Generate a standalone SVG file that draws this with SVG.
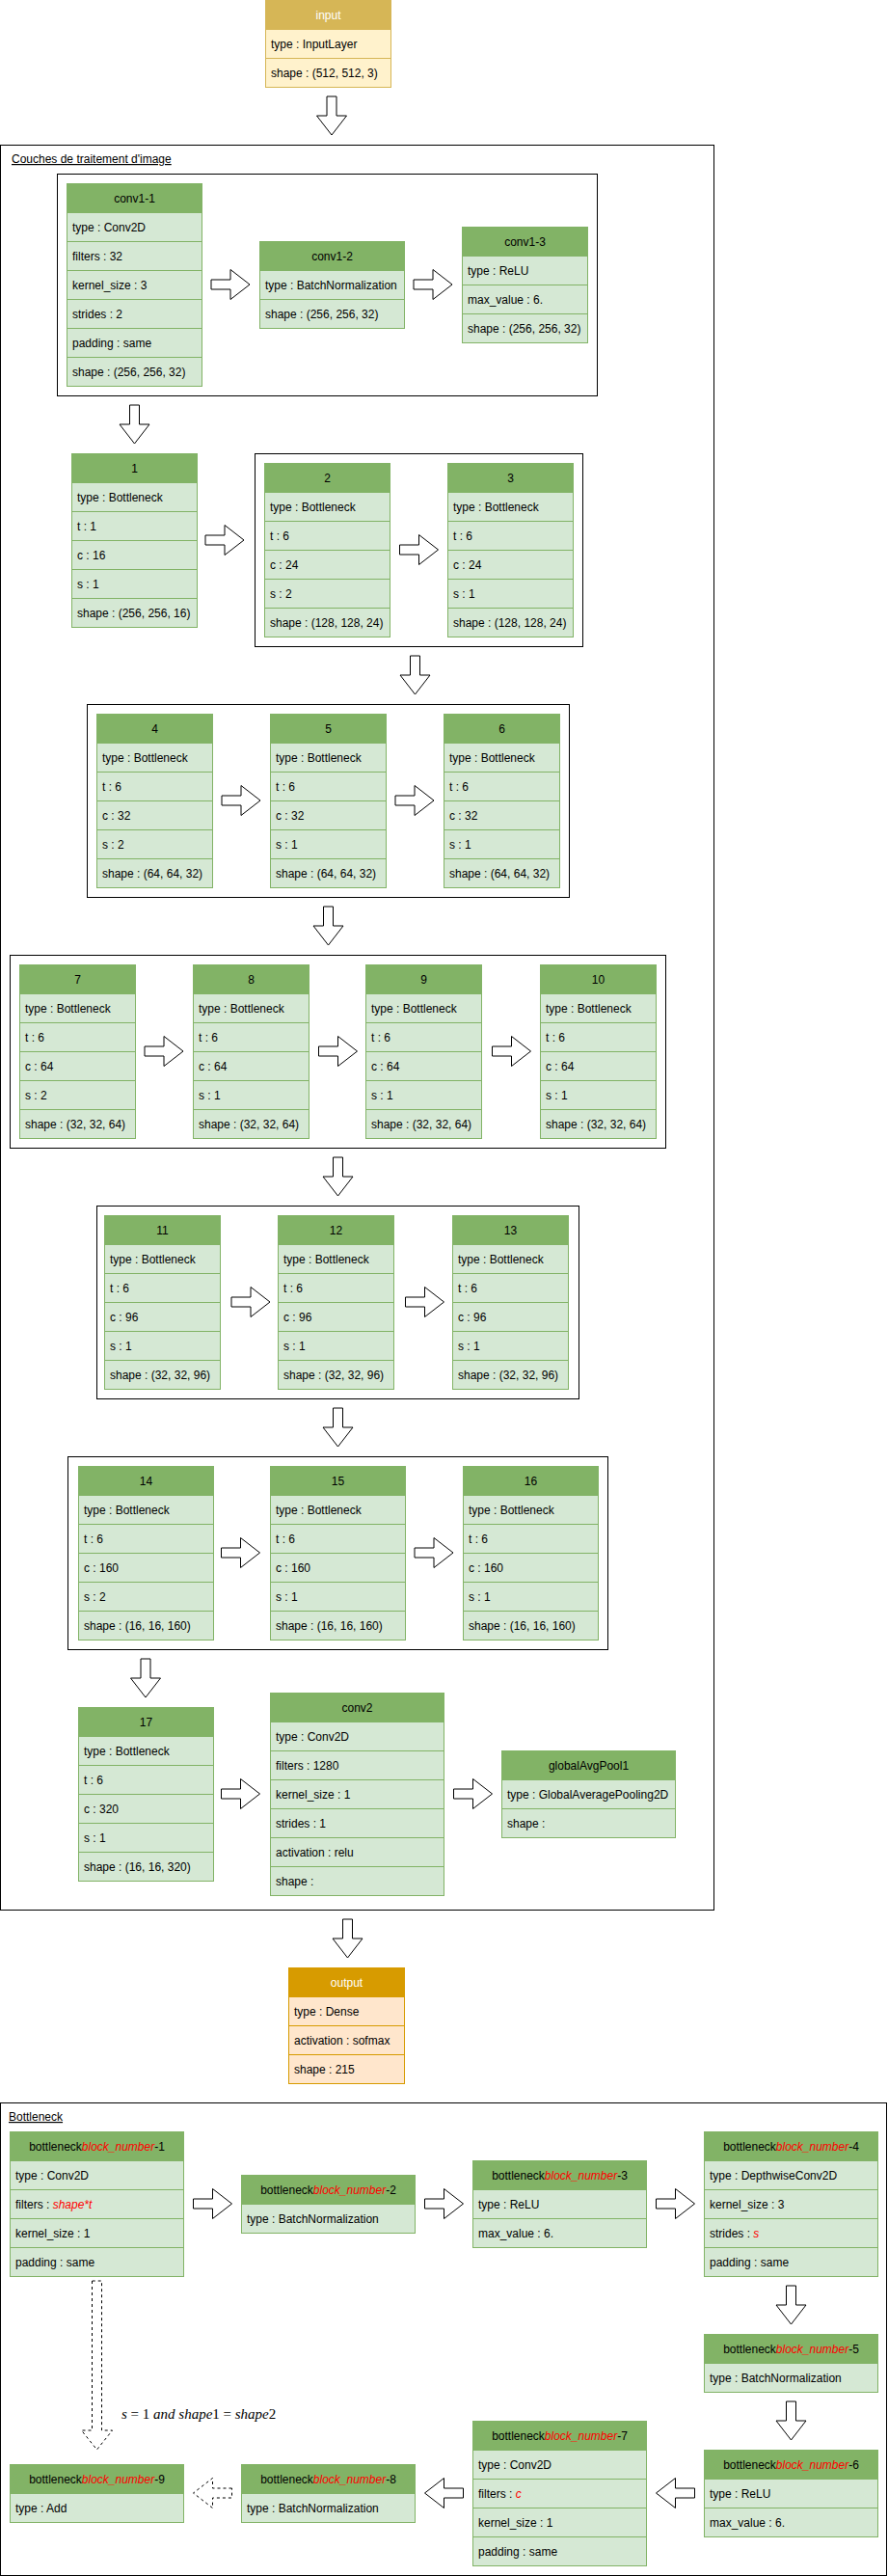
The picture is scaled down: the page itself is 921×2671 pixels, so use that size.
<svg xmlns="http://www.w3.org/2000/svg" xmlns:xlink="http://www.w3.org/1999/xlink" width="921" height="2671" viewBox="0 0 921 2671">
<style>
text{font-family:"Liberation Sans",Arial,sans-serif;font-size:12px;fill:#000}
.c{text-anchor:middle}
.w{fill:#fff}
.gh{fill:#82b366;stroke:#82b366}
.gr{fill:#d5e8d4;stroke:#82b366}
.yh{fill:#d6b656;stroke:#d6b656}
.yr{fill:#fff2cc;stroke:#d6b656}
.oh{fill:#d79b00;stroke:#d79b00}
.or{fill:#ffe6cc;stroke:#d79b00}
.box{fill:none;stroke:#000;stroke-width:1}
.arr{fill:#fff;stroke:#000;stroke-width:1}
.dash{stroke-dasharray:3,3}
.red{fill:#ff0000;font-style:italic}
.u{text-decoration:underline}
.m{font-family:"Liberation Serif","Times New Roman",serif;font-size:15px}
.i{font-style:italic}
</style>
<defs>
<path id="ar" d="M0,-5 H20 V-15.5 L40,0 L20,15.5 V5 H0 Z"/>
<path id="ad" d="M-5,0 V20 H-15.5 L0,40 L15.5,20 H5 V0 Z"/>
<path id="al" d="M40,-5 H20 V-15.5 L0,0 L20,15.5 V5 H40 Z"/>
</defs>

<g id="containers">
<rect class="box" x="0.5" y="150.5" width="740" height="1830"/>
<text class="u" x="12" y="169">Couches de traitement d'image</text>
<rect class="box" x="59.5" y="180.5" width="560" height="230"/>
<rect class="box" x="264.5" y="470.5" width="340" height="200"/>
<rect class="box" x="90.5" y="730.5" width="500" height="200"/>
<rect class="box" x="10.5" y="990.5" width="680" height="200"/>
<rect class="box" x="100.5" y="1250.5" width="500" height="200"/>
<rect class="box" x="70.5" y="1510.5" width="560" height="200"/>
<rect class="box" x="0.5" y="2180.5" width="919" height="490"/>
<text class="u" x="9" y="2199">Bottleneck</text>
</g>

<g id="connectors">
<use xlink:href="#ad" x="344" y="100" class="arr"/>
<use xlink:href="#ar" x="219" y="295" class="arr"/>
<use xlink:href="#ar" x="429" y="295" class="arr"/>
<use xlink:href="#ad" x="139.5" y="420" class="arr"/>
<use xlink:href="#ar" x="213" y="560" class="arr"/>
<use xlink:href="#ar" x="414.5" y="570" class="arr"/>
<use xlink:href="#ad" x="430.5" y="680" class="arr"/>
<use xlink:href="#ar" x="230" y="830" class="arr"/>
<use xlink:href="#ar" x="410" y="830" class="arr"/>
<use xlink:href="#ad" x="340.5" y="940" class="arr"/>
<use xlink:href="#ar" x="150" y="1090" class="arr"/>
<use xlink:href="#ar" x="330.5" y="1090" class="arr"/>
<use xlink:href="#ar" x="510.5" y="1090" class="arr"/>
<use xlink:href="#ad" x="350.5" y="1200" class="arr"/>
<use xlink:href="#ar" x="240" y="1350" class="arr"/>
<use xlink:href="#ar" x="420.5" y="1350" class="arr"/>
<use xlink:href="#ad" x="350.5" y="1460" class="arr"/>
<use xlink:href="#ar" x="229.5" y="1610" class="arr"/>
<use xlink:href="#ar" x="430" y="1610" class="arr"/>
<use xlink:href="#ad" x="151" y="1720" class="arr"/>
<use xlink:href="#ar" x="229.5" y="1860" class="arr"/>
<use xlink:href="#ar" x="470.5" y="1860" class="arr"/>
<use xlink:href="#ad" x="360.5" y="1990" class="arr"/>
<use xlink:href="#ar" x="200.5" y="2285" class="arr"/>
<use xlink:href="#ar" x="440.5" y="2285" class="arr"/>
<use xlink:href="#ar" x="680.5" y="2285" class="arr"/>
<use xlink:href="#ad" x="820.5" y="2370" class="arr"/>
<use xlink:href="#ad" x="820.5" y="2490" class="arr"/>
<use xlink:href="#al" x="680.5" y="2585" class="arr"/>
<use xlink:href="#al" x="440.5" y="2585" class="arr"/>
<use xlink:href="#al" x="200.5" y="2585" class="arr dash"/>
<path class="arr dash" d="M95.5,2365 V2520 H84.5 L100.5,2540 L116.5,2520 H105.5 V2365 Z"/>
<text class="m" x="126" y="2508"><tspan class="i">s</tspan> = 1 <tspan class="i">and shape</tspan>1 = <tspan class="i">shape</tspan>2</text>
</g>

<g id="input">
<rect class="yh" x="275.5" y="0.5" width="130" height="30"/>
<rect class="yr" x="275.5" y="30.5" width="130" height="30"/>
<rect class="yr" x="275.5" y="60.5" width="130" height="30"/>
<text class="c w" x="340.5" y="19.5">input</text>
<text x="281" y="49.5">type : InputLayer</text>
<text x="281" y="79.5">shape : (512, 512, 3)</text>
</g>

<g id="conv1-1">
<rect class="gh" x="69.5" y="190.5" width="140" height="30"/>
<rect class="gr" x="69.5" y="220.5" width="140" height="30"/>
<rect class="gr" x="69.5" y="250.5" width="140" height="30"/>
<rect class="gr" x="69.5" y="280.5" width="140" height="30"/>
<rect class="gr" x="69.5" y="310.5" width="140" height="30"/>
<rect class="gr" x="69.5" y="340.5" width="140" height="30"/>
<rect class="gr" x="69.5" y="370.5" width="140" height="30"/>
<text class="c" x="139.5" y="209.5">conv1-1</text>
<text x="75" y="239.5">type : Conv2D</text>
<text x="75" y="269.5">filters : 32</text>
<text x="75" y="299.5">kernel_size : 3</text>
<text x="75" y="329.5">strides : 2</text>
<text x="75" y="359.5">padding : same</text>
<text x="75" y="389.5">shape : (256, 256, 32)</text>
</g>

<g id="conv1-2">
<rect class="gh" x="269.5" y="250.5" width="150" height="30"/>
<rect class="gr" x="269.5" y="280.5" width="150" height="30"/>
<rect class="gr" x="269.5" y="310.5" width="150" height="30"/>
<text class="c" x="344.5" y="269.5">conv1-2</text>
<text x="275" y="299.5">type : BatchNormalization</text>
<text x="275" y="329.5">shape : (256, 256, 32)</text>
</g>

<g id="conv1-3">
<rect class="gh" x="479.5" y="235.5" width="130" height="30"/>
<rect class="gr" x="479.5" y="265.5" width="130" height="30"/>
<rect class="gr" x="479.5" y="295.5" width="130" height="30"/>
<rect class="gr" x="479.5" y="325.5" width="130" height="30"/>
<text class="c" x="544.5" y="254.5">conv1-3</text>
<text x="485" y="284.5">type : ReLU</text>
<text x="485" y="314.5">max_value : 6.</text>
<text x="485" y="344.5">shape : (256, 256, 32)</text>
</g>

<g id="b1">
<rect class="gh" x="74.5" y="470.5" width="130" height="30"/>
<rect class="gr" x="74.5" y="500.5" width="130" height="30"/>
<rect class="gr" x="74.5" y="530.5" width="130" height="30"/>
<rect class="gr" x="74.5" y="560.5" width="130" height="30"/>
<rect class="gr" x="74.5" y="590.5" width="130" height="30"/>
<rect class="gr" x="74.5" y="620.5" width="130" height="30"/>
<text class="c" x="139.5" y="489.5">1</text>
<text x="80" y="519.5">type : Bottleneck</text>
<text x="80" y="549.5">t : 1</text>
<text x="80" y="579.5">c : 16</text>
<text x="80" y="609.5">s : 1</text>
<text x="80" y="639.5">shape : (256, 256, 16)</text>
</g>

<g id="b2">
<rect class="gh" x="274.5" y="480.5" width="130" height="30"/>
<rect class="gr" x="274.5" y="510.5" width="130" height="30"/>
<rect class="gr" x="274.5" y="540.5" width="130" height="30"/>
<rect class="gr" x="274.5" y="570.5" width="130" height="30"/>
<rect class="gr" x="274.5" y="600.5" width="130" height="30"/>
<rect class="gr" x="274.5" y="630.5" width="130" height="30"/>
<text class="c" x="339.5" y="499.5">2</text>
<text x="280" y="529.5">type : Bottleneck</text>
<text x="280" y="559.5">t : 6</text>
<text x="280" y="589.5">c : 24</text>
<text x="280" y="619.5">s : 2</text>
<text x="280" y="649.5">shape : (128, 128, 24)</text>
</g>

<g id="b3">
<rect class="gh" x="464.5" y="480.5" width="130" height="30"/>
<rect class="gr" x="464.5" y="510.5" width="130" height="30"/>
<rect class="gr" x="464.5" y="540.5" width="130" height="30"/>
<rect class="gr" x="464.5" y="570.5" width="130" height="30"/>
<rect class="gr" x="464.5" y="600.5" width="130" height="30"/>
<rect class="gr" x="464.5" y="630.5" width="130" height="30"/>
<text class="c" x="529.5" y="499.5">3</text>
<text x="470" y="529.5">type : Bottleneck</text>
<text x="470" y="559.5">t : 6</text>
<text x="470" y="589.5">c : 24</text>
<text x="470" y="619.5">s : 1</text>
<text x="470" y="649.5">shape : (128, 128, 24)</text>
</g>

<g id="b4">
<rect class="gh" x="100.5" y="740.5" width="120" height="30"/>
<rect class="gr" x="100.5" y="770.5" width="120" height="30"/>
<rect class="gr" x="100.5" y="800.5" width="120" height="30"/>
<rect class="gr" x="100.5" y="830.5" width="120" height="30"/>
<rect class="gr" x="100.5" y="860.5" width="120" height="30"/>
<rect class="gr" x="100.5" y="890.5" width="120" height="30"/>
<text class="c" x="160.5" y="759.5">4</text>
<text x="106" y="789.5">type : Bottleneck</text>
<text x="106" y="819.5">t : 6</text>
<text x="106" y="849.5">c : 32</text>
<text x="106" y="879.5">s : 2</text>
<text x="106" y="909.5">shape : (64, 64, 32)</text>
</g>

<g id="b5">
<rect class="gh" x="280.5" y="740.5" width="120" height="30"/>
<rect class="gr" x="280.5" y="770.5" width="120" height="30"/>
<rect class="gr" x="280.5" y="800.5" width="120" height="30"/>
<rect class="gr" x="280.5" y="830.5" width="120" height="30"/>
<rect class="gr" x="280.5" y="860.5" width="120" height="30"/>
<rect class="gr" x="280.5" y="890.5" width="120" height="30"/>
<text class="c" x="340.5" y="759.5">5</text>
<text x="286" y="789.5">type : Bottleneck</text>
<text x="286" y="819.5">t : 6</text>
<text x="286" y="849.5">c : 32</text>
<text x="286" y="879.5">s : 1</text>
<text x="286" y="909.5">shape : (64, 64, 32)</text>
</g>

<g id="b6">
<rect class="gh" x="460.5" y="740.5" width="120" height="30"/>
<rect class="gr" x="460.5" y="770.5" width="120" height="30"/>
<rect class="gr" x="460.5" y="800.5" width="120" height="30"/>
<rect class="gr" x="460.5" y="830.5" width="120" height="30"/>
<rect class="gr" x="460.5" y="860.5" width="120" height="30"/>
<rect class="gr" x="460.5" y="890.5" width="120" height="30"/>
<text class="c" x="520.5" y="759.5">6</text>
<text x="466" y="789.5">type : Bottleneck</text>
<text x="466" y="819.5">t : 6</text>
<text x="466" y="849.5">c : 32</text>
<text x="466" y="879.5">s : 1</text>
<text x="466" y="909.5">shape : (64, 64, 32)</text>
</g>

<g id="b7">
<rect class="gh" x="20.5" y="1000.5" width="120" height="30"/>
<rect class="gr" x="20.5" y="1030.5" width="120" height="30"/>
<rect class="gr" x="20.5" y="1060.5" width="120" height="30"/>
<rect class="gr" x="20.5" y="1090.5" width="120" height="30"/>
<rect class="gr" x="20.5" y="1120.5" width="120" height="30"/>
<rect class="gr" x="20.5" y="1150.5" width="120" height="30"/>
<text class="c" x="80.5" y="1019.5">7</text>
<text x="26" y="1049.5">type : Bottleneck</text>
<text x="26" y="1079.5">t : 6</text>
<text x="26" y="1109.5">c : 64</text>
<text x="26" y="1139.5">s : 2</text>
<text x="26" y="1169.5">shape : (32, 32, 64)</text>
</g>

<g id="b8">
<rect class="gh" x="200.5" y="1000.5" width="120" height="30"/>
<rect class="gr" x="200.5" y="1030.5" width="120" height="30"/>
<rect class="gr" x="200.5" y="1060.5" width="120" height="30"/>
<rect class="gr" x="200.5" y="1090.5" width="120" height="30"/>
<rect class="gr" x="200.5" y="1120.5" width="120" height="30"/>
<rect class="gr" x="200.5" y="1150.5" width="120" height="30"/>
<text class="c" x="260.5" y="1019.5">8</text>
<text x="206" y="1049.5">type : Bottleneck</text>
<text x="206" y="1079.5">t : 6</text>
<text x="206" y="1109.5">c : 64</text>
<text x="206" y="1139.5">s : 1</text>
<text x="206" y="1169.5">shape : (32, 32, 64)</text>
</g>

<g id="b9">
<rect class="gh" x="379.5" y="1000.5" width="120" height="30"/>
<rect class="gr" x="379.5" y="1030.5" width="120" height="30"/>
<rect class="gr" x="379.5" y="1060.5" width="120" height="30"/>
<rect class="gr" x="379.5" y="1090.5" width="120" height="30"/>
<rect class="gr" x="379.5" y="1120.5" width="120" height="30"/>
<rect class="gr" x="379.5" y="1150.5" width="120" height="30"/>
<text class="c" x="439.5" y="1019.5">9</text>
<text x="385" y="1049.5">type : Bottleneck</text>
<text x="385" y="1079.5">t : 6</text>
<text x="385" y="1109.5">c : 64</text>
<text x="385" y="1139.5">s : 1</text>
<text x="385" y="1169.5">shape : (32, 32, 64)</text>
</g>

<g id="b10">
<rect class="gh" x="560.5" y="1000.5" width="120" height="30"/>
<rect class="gr" x="560.5" y="1030.5" width="120" height="30"/>
<rect class="gr" x="560.5" y="1060.5" width="120" height="30"/>
<rect class="gr" x="560.5" y="1090.5" width="120" height="30"/>
<rect class="gr" x="560.5" y="1120.5" width="120" height="30"/>
<rect class="gr" x="560.5" y="1150.5" width="120" height="30"/>
<text class="c" x="620.5" y="1019.5">10</text>
<text x="566" y="1049.5">type : Bottleneck</text>
<text x="566" y="1079.5">t : 6</text>
<text x="566" y="1109.5">c : 64</text>
<text x="566" y="1139.5">s : 1</text>
<text x="566" y="1169.5">shape : (32, 32, 64)</text>
</g>

<g id="b11">
<rect class="gh" x="108.5" y="1260.5" width="120" height="30"/>
<rect class="gr" x="108.5" y="1290.5" width="120" height="30"/>
<rect class="gr" x="108.5" y="1320.5" width="120" height="30"/>
<rect class="gr" x="108.5" y="1350.5" width="120" height="30"/>
<rect class="gr" x="108.5" y="1380.5" width="120" height="30"/>
<rect class="gr" x="108.5" y="1410.5" width="120" height="30"/>
<text class="c" x="168.5" y="1279.5">11</text>
<text x="114" y="1309.5">type : Bottleneck</text>
<text x="114" y="1339.5">t : 6</text>
<text x="114" y="1369.5">c : 96</text>
<text x="114" y="1399.5">s : 1</text>
<text x="114" y="1429.5">shape : (32, 32, 96)</text>
</g>

<g id="b12">
<rect class="gh" x="288.5" y="1260.5" width="120" height="30"/>
<rect class="gr" x="288.5" y="1290.5" width="120" height="30"/>
<rect class="gr" x="288.5" y="1320.5" width="120" height="30"/>
<rect class="gr" x="288.5" y="1350.5" width="120" height="30"/>
<rect class="gr" x="288.5" y="1380.5" width="120" height="30"/>
<rect class="gr" x="288.5" y="1410.5" width="120" height="30"/>
<text class="c" x="348.5" y="1279.5">12</text>
<text x="294" y="1309.5">type : Bottleneck</text>
<text x="294" y="1339.5">t : 6</text>
<text x="294" y="1369.5">c : 96</text>
<text x="294" y="1399.5">s : 1</text>
<text x="294" y="1429.5">shape : (32, 32, 96)</text>
</g>

<g id="b13">
<rect class="gh" x="469.5" y="1260.5" width="120" height="30"/>
<rect class="gr" x="469.5" y="1290.5" width="120" height="30"/>
<rect class="gr" x="469.5" y="1320.5" width="120" height="30"/>
<rect class="gr" x="469.5" y="1350.5" width="120" height="30"/>
<rect class="gr" x="469.5" y="1380.5" width="120" height="30"/>
<rect class="gr" x="469.5" y="1410.5" width="120" height="30"/>
<text class="c" x="529.5" y="1279.5">13</text>
<text x="475" y="1309.5">type : Bottleneck</text>
<text x="475" y="1339.5">t : 6</text>
<text x="475" y="1369.5">c : 96</text>
<text x="475" y="1399.5">s : 1</text>
<text x="475" y="1429.5">shape : (32, 32, 96)</text>
</g>

<g id="b14">
<rect class="gh" x="81.5" y="1520.5" width="140" height="30"/>
<rect class="gr" x="81.5" y="1550.5" width="140" height="30"/>
<rect class="gr" x="81.5" y="1580.5" width="140" height="30"/>
<rect class="gr" x="81.5" y="1610.5" width="140" height="30"/>
<rect class="gr" x="81.5" y="1640.5" width="140" height="30"/>
<rect class="gr" x="81.5" y="1670.5" width="140" height="30"/>
<text class="c" x="151.5" y="1539.5">14</text>
<text x="87" y="1569.5">type : Bottleneck</text>
<text x="87" y="1599.5">t : 6</text>
<text x="87" y="1629.5">c : 160</text>
<text x="87" y="1659.5">s : 2</text>
<text x="87" y="1689.5">shape : (16, 16, 160)</text>
</g>

<g id="b15">
<rect class="gh" x="280.5" y="1520.5" width="140" height="30"/>
<rect class="gr" x="280.5" y="1550.5" width="140" height="30"/>
<rect class="gr" x="280.5" y="1580.5" width="140" height="30"/>
<rect class="gr" x="280.5" y="1610.5" width="140" height="30"/>
<rect class="gr" x="280.5" y="1640.5" width="140" height="30"/>
<rect class="gr" x="280.5" y="1670.5" width="140" height="30"/>
<text class="c" x="350.5" y="1539.5">15</text>
<text x="286" y="1569.5">type : Bottleneck</text>
<text x="286" y="1599.5">t : 6</text>
<text x="286" y="1629.5">c : 160</text>
<text x="286" y="1659.5">s : 1</text>
<text x="286" y="1689.5">shape : (16, 16, 160)</text>
</g>

<g id="b16">
<rect class="gh" x="480.5" y="1520.5" width="140" height="30"/>
<rect class="gr" x="480.5" y="1550.5" width="140" height="30"/>
<rect class="gr" x="480.5" y="1580.5" width="140" height="30"/>
<rect class="gr" x="480.5" y="1610.5" width="140" height="30"/>
<rect class="gr" x="480.5" y="1640.5" width="140" height="30"/>
<rect class="gr" x="480.5" y="1670.5" width="140" height="30"/>
<text class="c" x="550.5" y="1539.5">16</text>
<text x="486" y="1569.5">type : Bottleneck</text>
<text x="486" y="1599.5">t : 6</text>
<text x="486" y="1629.5">c : 160</text>
<text x="486" y="1659.5">s : 1</text>
<text x="486" y="1689.5">shape : (16, 16, 160)</text>
</g>

<g id="b17">
<rect class="gh" x="81.5" y="1770.5" width="140" height="30"/>
<rect class="gr" x="81.5" y="1800.5" width="140" height="30"/>
<rect class="gr" x="81.5" y="1830.5" width="140" height="30"/>
<rect class="gr" x="81.5" y="1860.5" width="140" height="30"/>
<rect class="gr" x="81.5" y="1890.5" width="140" height="30"/>
<rect class="gr" x="81.5" y="1920.5" width="140" height="30"/>
<text class="c" x="151.5" y="1789.5">17</text>
<text x="87" y="1819.5">type : Bottleneck</text>
<text x="87" y="1849.5">t : 6</text>
<text x="87" y="1879.5">c : 320</text>
<text x="87" y="1909.5">s : 1</text>
<text x="87" y="1939.5">shape : (16, 16, 320)</text>
</g>

<g id="conv2">
<rect class="gh" x="280.5" y="1755.5" width="180" height="30"/>
<rect class="gr" x="280.5" y="1785.5" width="180" height="30"/>
<rect class="gr" x="280.5" y="1815.5" width="180" height="30"/>
<rect class="gr" x="280.5" y="1845.5" width="180" height="30"/>
<rect class="gr" x="280.5" y="1875.5" width="180" height="30"/>
<rect class="gr" x="280.5" y="1905.5" width="180" height="30"/>
<rect class="gr" x="280.5" y="1935.5" width="180" height="30"/>
<text class="c" x="370.5" y="1774.5">conv2</text>
<text x="286" y="1804.5">type : Conv2D</text>
<text x="286" y="1834.5">filters : 1280</text>
<text x="286" y="1864.5">kernel_size : 1</text>
<text x="286" y="1894.5">strides : 1</text>
<text x="286" y="1924.5">activation : relu</text>
<text x="286" y="1954.5">shape : </text>
</g>

<g id="globalAvgPool1">
<rect class="gh" x="520.5" y="1815.5" width="180" height="30"/>
<rect class="gr" x="520.5" y="1845.5" width="180" height="30"/>
<rect class="gr" x="520.5" y="1875.5" width="180" height="30"/>
<text class="c" x="610.5" y="1834.5">globalAvgPool1</text>
<text x="526" y="1864.5">type : GlobalAveragePooling2D</text>
<text x="526" y="1894.5">shape : </text>
</g>

<g id="output">
<rect class="oh" x="299.5" y="2040.5" width="120" height="30"/>
<rect class="or" x="299.5" y="2070.5" width="120" height="30"/>
<rect class="or" x="299.5" y="2100.5" width="120" height="30"/>
<rect class="or" x="299.5" y="2130.5" width="120" height="30"/>
<text class="c w" x="359.5" y="2059.5">output</text>
<text x="305" y="2089.5">type : Dense</text>
<text x="305" y="2119.5">activation : sofmax</text>
<text x="305" y="2149.5">shape : 215</text>
</g>

<g id="bn1">
<rect class="gh" x="10.5" y="2210.5" width="180" height="30"/>
<rect class="gr" x="10.5" y="2240.5" width="180" height="30"/>
<rect class="gr" x="10.5" y="2270.5" width="180" height="30"/>
<rect class="gr" x="10.5" y="2300.5" width="180" height="30"/>
<rect class="gr" x="10.5" y="2330.5" width="180" height="30"/>
<text class="c" x="100.5" y="2229.5">bottleneck<tspan class="red">block_number</tspan>-1</text>
<text x="16" y="2259.5">type : Conv2D</text>
<text x="16" y="2289.5">filters : <tspan class="red">shape*t</tspan></text>
<text x="16" y="2319.5">kernel_size : 1</text>
<text x="16" y="2349.5">padding : same</text>
</g>

<g id="bn2">
<rect class="gh" x="250.5" y="2255.5" width="180" height="30"/>
<rect class="gr" x="250.5" y="2285.5" width="180" height="30"/>
<text class="c" x="340.5" y="2274.5">bottleneck<tspan class="red">block_number</tspan>-2</text>
<text x="256" y="2304.5">type : BatchNormalization</text>
</g>

<g id="bn3">
<rect class="gh" x="490.5" y="2240.5" width="180" height="30"/>
<rect class="gr" x="490.5" y="2270.5" width="180" height="30"/>
<rect class="gr" x="490.5" y="2300.5" width="180" height="30"/>
<text class="c" x="580.5" y="2259.5">bottleneck<tspan class="red">block_number</tspan>-3</text>
<text x="496" y="2289.5">type : ReLU</text>
<text x="496" y="2319.5">max_value : 6.</text>
</g>

<g id="bn4">
<rect class="gh" x="730.5" y="2210.5" width="180" height="30"/>
<rect class="gr" x="730.5" y="2240.5" width="180" height="30"/>
<rect class="gr" x="730.5" y="2270.5" width="180" height="30"/>
<rect class="gr" x="730.5" y="2300.5" width="180" height="30"/>
<rect class="gr" x="730.5" y="2330.5" width="180" height="30"/>
<text class="c" x="820.5" y="2229.5">bottleneck<tspan class="red">block_number</tspan>-4</text>
<text x="736" y="2259.5">type : DepthwiseConv2D</text>
<text x="736" y="2289.5">kernel_size : 3</text>
<text x="736" y="2319.5">strides : <tspan class="red">s</tspan></text>
<text x="736" y="2349.5">padding : same</text>
</g>

<g id="bn5">
<rect class="gh" x="730.5" y="2420.5" width="180" height="30"/>
<rect class="gr" x="730.5" y="2450.5" width="180" height="30"/>
<text class="c" x="820.5" y="2439.5">bottleneck<tspan class="red">block_number</tspan>-5</text>
<text x="736" y="2469.5">type : BatchNormalization</text>
</g>

<g id="bn6">
<rect class="gh" x="730.5" y="2540.5" width="180" height="30"/>
<rect class="gr" x="730.5" y="2570.5" width="180" height="30"/>
<rect class="gr" x="730.5" y="2600.5" width="180" height="30"/>
<text class="c" x="820.5" y="2559.5">bottleneck<tspan class="red">block_number</tspan>-6</text>
<text x="736" y="2589.5">type : ReLU</text>
<text x="736" y="2619.5">max_value : 6.</text>
</g>

<g id="bn7">
<rect class="gh" x="490.5" y="2510.5" width="180" height="30"/>
<rect class="gr" x="490.5" y="2540.5" width="180" height="30"/>
<rect class="gr" x="490.5" y="2570.5" width="180" height="30"/>
<rect class="gr" x="490.5" y="2600.5" width="180" height="30"/>
<rect class="gr" x="490.5" y="2630.5" width="180" height="30"/>
<text class="c" x="580.5" y="2529.5">bottleneck<tspan class="red">block_number</tspan>-7</text>
<text x="496" y="2559.5">type : Conv2D</text>
<text x="496" y="2589.5">filters : <tspan class="red">c</tspan></text>
<text x="496" y="2619.5">kernel_size : 1</text>
<text x="496" y="2649.5">padding : same</text>
</g>

<g id="bn8">
<rect class="gh" x="250.5" y="2555.5" width="180" height="30"/>
<rect class="gr" x="250.5" y="2585.5" width="180" height="30"/>
<text class="c" x="340.5" y="2574.5">bottleneck<tspan class="red">block_number</tspan>-8</text>
<text x="256" y="2604.5">type : BatchNormalization</text>
</g>

<g id="bn9">
<rect class="gh" x="10.5" y="2555.5" width="180" height="30"/>
<rect class="gr" x="10.5" y="2585.5" width="180" height="30"/>
<text class="c" x="100.5" y="2574.5">bottleneck<tspan class="red">block_number</tspan>-9</text>
<text x="16" y="2604.5">type : Add</text>
</g>
</svg>
